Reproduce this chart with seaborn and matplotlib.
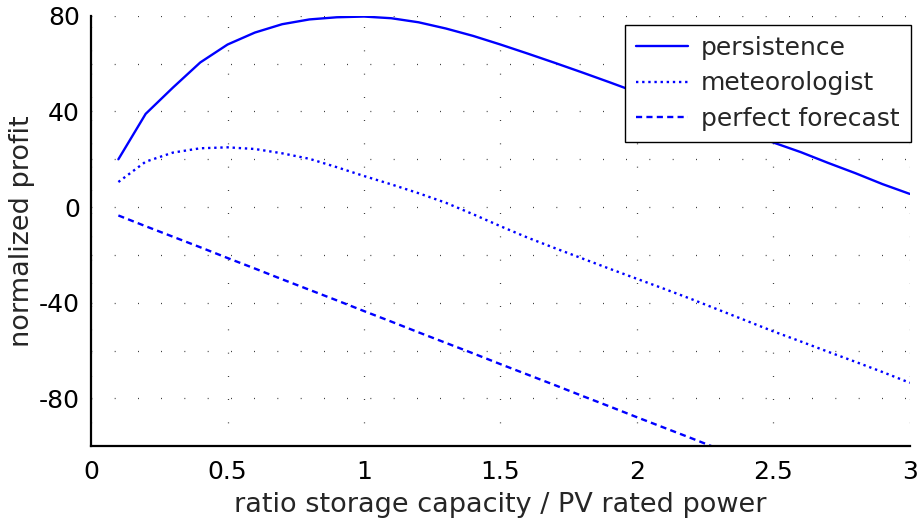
import numpy as np
import pandas as pd
import matplotlib
matplotlib.use("Agg")
import matplotlib.pyplot as plt
import seaborn as sns

# storage capacity relative to PV rated power
ratio = [0.1, 0.2, 0.3, 0.4, 0.5, 0.6, 0.7, 0.8, 0.9, 1.0,
         1.1, 1.2, 1.3, 1.4, 1.5, 1.6, 1.7, 1.8, 1.9, 2.0,
         2.1, 2.2, 2.3, 2.4, 2.5, 2.6, 2.7, 2.8, 2.9, 3.0]

persistence = [20, 39, 50, 60.5, 68, 73, 76.5, 78.5, 79.4, 79.7,
               79.0, 77.3, 74.7, 71.6, 68, 64.2, 60.3, 56.3, 52.2, 48,
               44, 40, 35.5, 31.2, 27, 23, 18.5, 14.2, 9.6, 5.5]

meteorologist = [10.5, 19, 22.8, 24.6, 25, 24.3, 22.5, 20.2, 16.7, 13,
                 9.5, 5.8, 1.8, -3, -8, -12.8, -17.2, -21.5, -25.8, -30,
                 -34.2, -38.5, -43, -47.5, -52, -56.2, -60.5, -64.7, -69, -73.5]

perfect_forecast = [-3.5, -8, -12.4, -16.8, -21.3, -25.7, -30.2, -34.6, -39, -43.5,
                    -47.9, -52.4, -56.8, -61.2, -65.7, -70.1, -74.5, -79, -83.4, -87.9,
                    -92.3, -96.7, -101.2, -105.6, -110, -114.5, -118.9, -123.4, -127.8, -132.2]

series_names = ["persistence", "meteorologist", "perfect forecast"]

df = pd.DataFrame({
    "ratio": ratio * 3,
    "profit": persistence + meteorologist + perfect_forecast,
    "strategy": np.repeat(series_names, len(ratio)),
})

sns.set_style("white")
plt.rcParams["font.family"] = ["DejaVu Sans"]
plt.rcParams["axes.unicode_minus"] = False
plt.rcParams["axes.linewidth"] = 1.6

fig = plt.figure(figsize=(9.2, 5.28), dpi=100)
ax = fig.add_axes([0.099, 0.155, 0.890, 0.815])

sns.lineplot(
    data=df, x="ratio", y="profit", style="strategy",
    style_order=series_names,
    dashes={"persistence": "", "meteorologist": (1, 1.6), "perfect forecast": (2.6, 1.8)},
    color="#0000ff", linewidth=1.7, ax=ax, legend=True,
)

ax.set_xlim(0, 3)
ax.set_ylim(-100, 80)
ax.set_xticks([0, 0.5, 1, 1.5, 2, 2.5, 3])
ax.set_xticklabels(["0", "0.5", "1", "1.5", "2", "2.5", "3"])
ax.set_yticks([-80, -40, 0, 40, 80])
ax.set_yticks([-60, -20, 20, 60], minor=True)

ax.tick_params(axis="both", which="both", direction="in", length=9, width=1.4,
               labelsize=18, colors="black", pad=8)
ax.tick_params(axis="x", pad=10)

# sparse dotted grid: horizontal every 20, vertical at the major x ticks
grid_style = dict(color="black", linewidth=0.9, linestyle=(0, (0.6, 18)))
ax.yaxis.grid(True, which="both", **grid_style)
ax.xaxis.grid(True, which="major", **grid_style)
ax.set_axisbelow(True)

for side in ["top", "right"]:
    ax.spines[side].set_visible(False)
for side in ["left", "bottom"]:
    ax.spines[side].set_color("black")

ax.set_xlabel("ratio storage capacity / PV rated power", fontsize=19.5, labelpad=6)
ax.set_ylabel("normalized profit", fontsize=19.5, labelpad=3)

handles, labels = ax.get_legend_handles_labels()
leg = ax.legend(handles, labels, loc="upper right", fontsize=18,
                frameon=True, fancybox=False, framealpha=1,
                edgecolor="black", borderpad=0.45, labelspacing=0.45,
                handlelength=2.1, handletextpad=0.5, borderaxespad=0,
                bbox_to_anchor=(1.001, 0.979))
leg.get_frame().set_linewidth(1.0)
for line in leg.get_lines():
    line.set_color("#0000ff")
    line.set_linewidth(1.7)

fig.savefig("out.png", dpi=100)
